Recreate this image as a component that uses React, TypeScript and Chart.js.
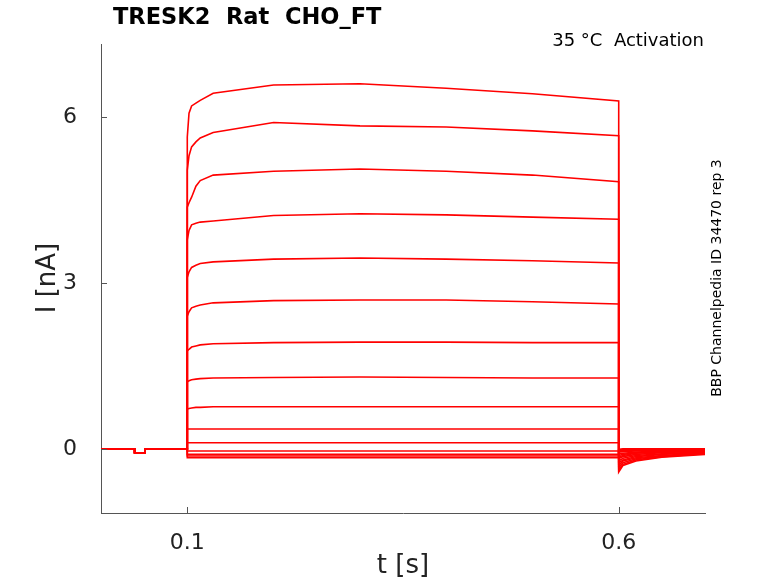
import React, { useEffect, useRef } from "react";
import { Chart, registerables } from "chart.js";
Chart.register(...registerables);

// time points shared by every trace (s)
const stepTimes = [0.1, 0.102, 0.105, 0.11, 0.115, 0.13, 0.2, 0.3, 0.4, 0.5, 0.6];
// current (nA) at each step time, per trace
const stepCurrents: number[][] = [
  [5.64, 6.07, 6.2, 6.25, 6.3, 6.43, 6.58, 6.6, 6.52, 6.42, 6.29],
  [5.04, 5.3, 5.46, 5.55, 5.62, 5.72, 5.9, 5.84, 5.82, 5.75, 5.66],
  [4.37, 4.45, 4.55, 4.75, 4.85, 4.95, 5.02, 5.06, 5.02, 4.95, 4.83],
  [3.78, 3.95, 4.05, 4.08, 4.1, 4.12, 4.22, 4.25, 4.23, 4.19, 4.15],
  [3.1, 3.2, 3.28, 3.32, 3.35, 3.38, 3.43, 3.45, 3.43, 3.4, 3.36],
  [2.4, 2.48, 2.55, 2.58, 2.6, 2.64, 2.68, 2.69, 2.69, 2.66, 2.62],
  [1.77, 1.8, 1.84, 1.86, 1.88, 1.9, 1.92, 1.93, 1.93, 1.92, 1.92],
  [1.21, 1.23, 1.25, 1.26, 1.27, 1.28, 1.29, 1.3, 1.29, 1.28, 1.28],
  [0.72, 0.73, 0.74, 0.75, 0.75, 0.76, 0.76, 0.76, 0.76, 0.76, 0.76],
  [0.36, 0.36, 0.36, 0.36, 0.36, 0.36, 0.36, 0.36, 0.36, 0.36, 0.36],
  [0.11, 0.11, 0.11, 0.11, 0.11, 0.11, 0.11, 0.11, 0.11, 0.11, 0.11],
  [-0.04, -0.04, -0.04, -0.04, -0.04, -0.04, -0.04, -0.04, -0.04, -0.04, -0.04],
  [-0.1, -0.1, -0.1, -0.1, -0.1, -0.1, -0.1, -0.1, -0.1, -0.1, -0.1],
  [-0.13, -0.13, -0.13, -0.13, -0.13, -0.13, -0.13, -0.13, -0.13, -0.13, -0.13],
  [-0.16, -0.16, -0.16, -0.16, -0.16, -0.16, -0.16, -0.16, -0.16, -0.16, -0.16],
];
// tail after the step
const tailTimes = [0.6, 0.605, 0.62, 0.65, 0.7];
const tailCurrents: number[][] = [
  [-0.42, -0.3, -0.22, -0.15, -0.1],
  [-0.38, -0.28, -0.2, -0.14, -0.09],
  [-0.34, -0.25, -0.18, -0.13, -0.08],
  [-0.3, -0.22, -0.16, -0.12, -0.07],
  [-0.26, -0.2, -0.14, -0.1, -0.06],
  [-0.22, -0.17, -0.12, -0.09, -0.05],
  [-0.18, -0.14, -0.1, -0.07, -0.04],
  [-0.15, -0.12, -0.08, -0.06, -0.03],
  [-0.12, -0.1, -0.07, -0.05, -0.02],
  [-0.09, -0.08, -0.06, -0.04, -0.01],
  [-0.06, -0.05, -0.04, -0.03, 0.0],
  [-0.04, -0.03, -0.03, -0.02, 0.0],
  [-0.03, -0.02, -0.02, -0.01, 0.0],
  [-0.02, -0.01, -0.01, 0.0, 0.0],
  [-0.01, 0.0, 0.0, 0.0, 0.0],
];
// holding baseline before the step
const baseTimes = [0, 0.039, 0.039, 0.051, 0.051, 0.1];
const baseCurrents = [0, 0, -0.07, -0.07, 0, 0];

const xTicks = [0.1, 0.6];
const yTicks = [0, 3, 6];

const FONT = "'DejaVu Sans', sans-serif";

export default function App() {
  const ref = useRef<HTMLCanvasElement>(null);
  useEffect(() => {
    document.body.style.margin = "0";
    const datasets = stepCurrents.map((vals, i) => {
      const pts: { x: number; y: number }[] = [];
      baseTimes.forEach((t, k) => pts.push({ x: t, y: baseCurrents[k] }));
      stepTimes.forEach((t, k) => pts.push({ x: t, y: vals[k] }));
      tailTimes.forEach((t, k) => pts.push({ x: t, y: tailCurrents[i][k] }));
      return {
        data: pts,
        borderColor: "#ff0000",
        borderWidth: 1.6,
        pointRadius: 0,
        showLine: true,
        tension: 0,
      };
    });
    const overlay = {
      id: "overlay",
      afterDraw(c: any) {
        const ctx = c.ctx;
        const a = c.chartArea;
        const xs = c.scales.x, ys = c.scales.y;
        ctx.save();
        ctx.strokeStyle = "#555";
        ctx.lineWidth = 1;
        yTicks.forEach((v) => {
          const y = Math.round(ys.getPixelForValue(v)) + 0.5;
          ctx.beginPath(); ctx.moveTo(a.left, y); ctx.lineTo(a.left + 6, y); ctx.stroke();
        });
        xTicks.forEach((v) => {
          const x = Math.round(xs.getPixelForValue(v)) + 0.5;
          ctx.beginPath(); ctx.moveTo(x, a.bottom); ctx.lineTo(x, a.bottom - 6); ctx.stroke();
        });
        ctx.fillStyle = "#000";
        ctx.font = `bold 22.5px ${FONT}`;
        ctx.textAlign = "left"; ctx.textBaseline = "middle";
        ctx.fillText("TRESK2  Rat  CHO_FT", 113, 18);
        ctx.font = `18px ${FONT}`;
        ctx.textAlign = "right";
        ctx.fillText("35 °C  Activation", 704, 41);
        ctx.fillStyle = "#222";
        ctx.font = `26px ${FONT}`;
        ctx.textAlign = "center";
        ctx.fillText("t [s]", 403, 566);
        ctx.save();
        ctx.translate(48, 278); ctx.rotate(-Math.PI / 2);
        ctx.fillText("I [nA]", 0, 0);
        ctx.restore();
        ctx.save();
        ctx.fillStyle = "#000";
        ctx.font = `14px ${FONT}`;
        ctx.translate(717, 278); ctx.rotate(-Math.PI / 2);
        ctx.fillText("BBP Channelpedia ID 34470 rep 3", 0, 0);
        ctx.restore();
        ctx.restore();
      },
    };
    const chart = new Chart(ref.current!, {
      type: "scatter",
      data: { datasets: datasets as any },
      plugins: [overlay],
      options: {
        animation: false,
        responsive: false,
        layout: { padding: { top: 44, right: 73, left: 0, bottom: 0 } },
        plugins: { legend: { display: false }, tooltip: { enabled: false } },
        scales: {
          x: {
            type: "linear", min: 0, max: 0.7,
            afterBuildTicks: (s: any) => { s.ticks = xTicks.map((v) => ({ value: v })); },
            afterFit: (s: any) => { s.height = 70; },
            grid: { display: false },
            border: { display: true, color: "#555" },
            ticks: { color: "#222", font: { family: FONT, size: 22 }, padding: 9, callback: (v: any) => String(v) },
          },
          y: {
            type: "linear", min: -1.16, max: 7.32,
            afterBuildTicks: (s: any) => { s.ticks = yTicks.map((v) => ({ value: v })); },
            afterFit: (s: any) => { s.width = 101; },
            grid: { display: false },
            border: { display: true, color: "#555" },
            ticks: { color: "#222", font: { family: FONT, size: 22 }, padding: 16, callback: (v: any) => String(v) },
          },
        },
      },
    });
    return () => chart.destroy();
  }, []);
  return <canvas ref={ref} width={778} height={583} style={{ display: "block" }} />;
}
